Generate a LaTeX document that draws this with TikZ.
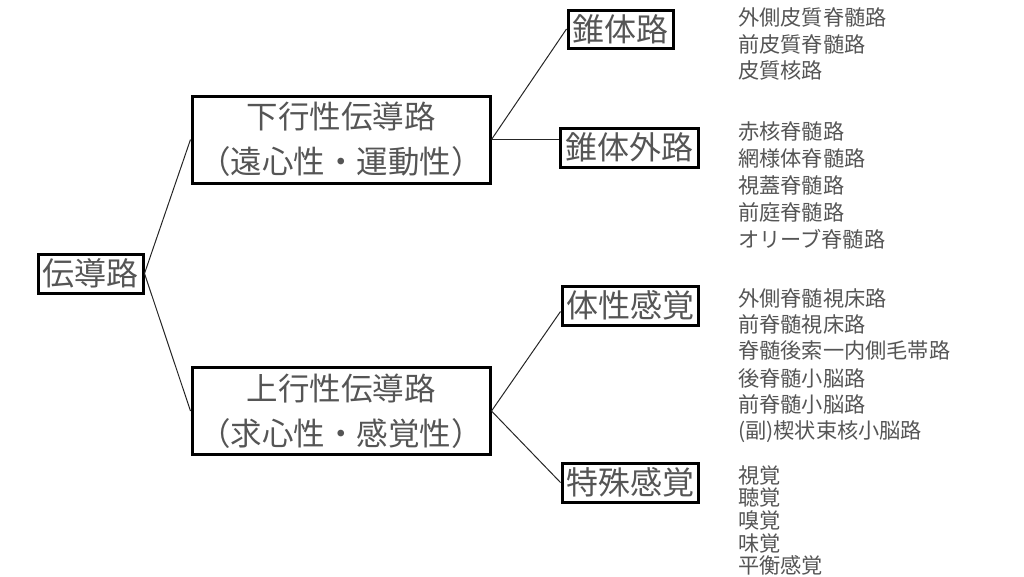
\documentclass[tikz,border=0pt]{standalone}
\usepackage{fontspec}
\setmainfont{Noto Sans CJK JP}
\definecolor{txt}{HTML}{555555}
\begin{document}
\begin{tikzpicture}[x=1pt,y=-1pt,
  box/.style={draw=black, line width=3pt, text=txt, inner sep=0pt, font=\fontsize{32}{36}\selectfont},
  bigbox/.style={box, minimum width=298pt, minimum height=87pt, align=center, font=\fontsize{31.5}{45}\selectfont},
  item/.style={anchor=west, text=txt, inner sep=0pt, font=\fontsize{21.2}{24}\selectfont},
  conn/.style={line width=1pt, black!85}]
\useasboundingbox (0,0) rectangle (1024,576);
% main boxes
\node[box, minimum width=105pt, minimum height=39pt] (root) at (90.5,273.5) {伝導路};
\node[bigbox] (down) at (341,139.5) {下行性伝導路\\（遠心性・運動性）};
\node[bigbox] (up) at (341,411) {上行性伝導路\\（求心性・感覚性）};
\node[box, minimum width=105pt, minimum height=38pt] (pyr) at (620.5,29) {錐体路};
\node[box, minimum width=138pt, minimum height=39pt] (expyr) at (629,147.5) {錐体外路};
\node[box, minimum width=136pt, minimum height=39pt] (soma) at (630,305.5) {体性感覚};
\node[box, minimum width=136pt, minimum height=39pt] (spec) at (630,482.5) {特殊感覚};
% connectors
\draw[conn] (root.east) -- (down.west);
\draw[conn] (root.east) -- (up.west);
\draw[conn] (down.east) -- (pyr.west);
\draw[conn] (down.east) -- (down.east -| expyr.west);
\draw[conn] (up.east) -- ([yshift=-6pt]soma.west);
\draw[conn] (up.east) -- (spec.west);
% lists
\node[item] (a1) at (738,17) {外側皮質脊髄路};
\node[item] (a2) at (738,44) {前皮質脊髄路};
\node[item] (a3) at (738,70) {皮質核路};
\node[item] (b1) at (738,131) {赤核脊髄路};
\node[item] (b2) at (738,158) {網様体脊髄路};
\node[item] (b3) at (738,185) {視蓋脊髄路};
\node[item] (b4) at (738,212) {前庭脊髄路};
\node[item] (b5) at (738,239) {オリーブ脊髄路};
\node[item] (c1) at (738,298) {外側脊髄視床路};
\node[item] (c2) at (738,324) {前脊髄視床路};
\node[item] (c3) at (738,350) {脊髄後索一内側毛帯路};
\node[item] (c4) at (738,378) {後脊髄小脳路};
\node[item] (c5) at (738,404) {前脊髄小脳路};
\node[item] (c6) at (738,432) {(副)楔状束核小脳路};
\node[item] (d1) at (738,475) {視覚};
\node[item] (d2) at (738,497) {聴覚};
\node[item] (d3) at (738,520) {嗅覚};
\node[item] (d4) at (738,543) {味覚};
\node[item] (d5) at (738,565) {平衡感覚};
\end{tikzpicture}
\end{document}
